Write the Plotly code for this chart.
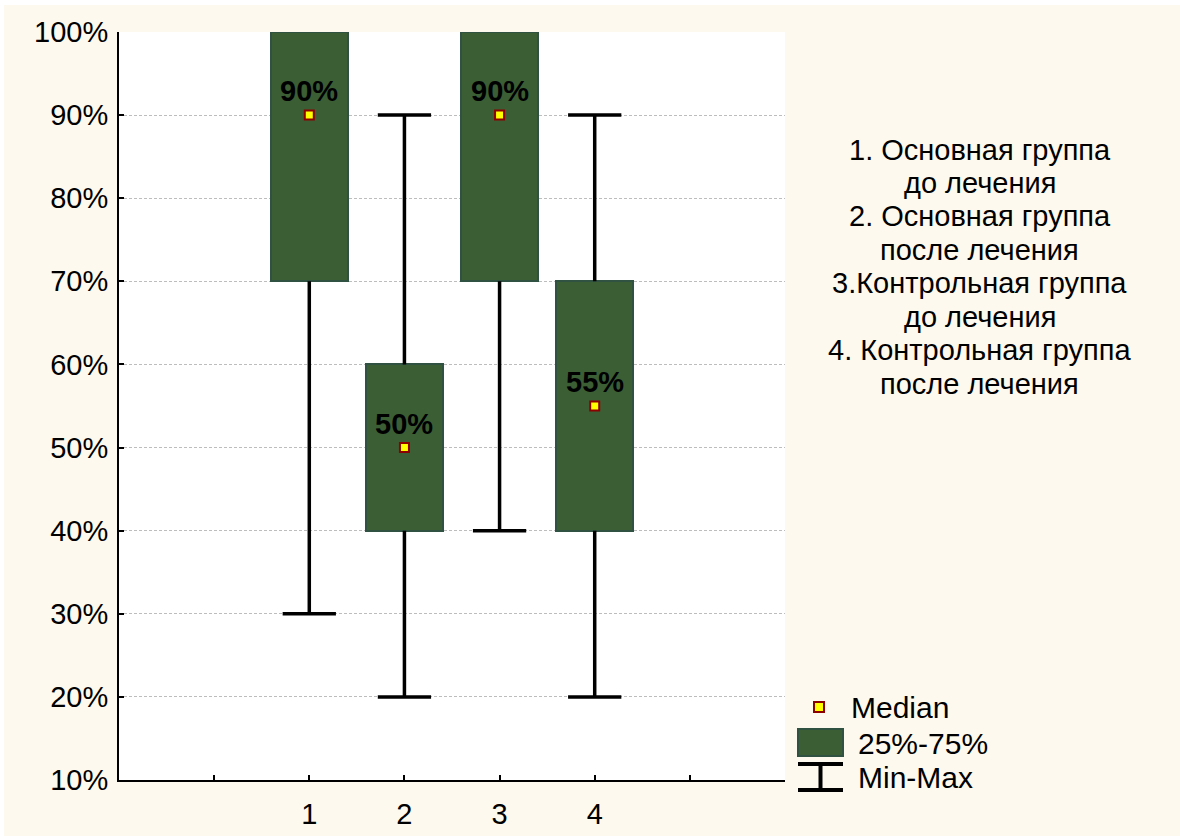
import plotly.graph_objects as go

# Summary statistics per group (percent)
groups = [1, 2, 3, 4]
mins = [30, 20, 40, 20]
q1 = [70, 40, 70, 40]
medians = [90, 50, 90, 55]
q3 = [100, 60, 100, 70]
maxs = [100, 90, 100, 90]

group_notes = [
    "1. Основная группа", "до лечения",
    "2. Основная группа", "после лечения",
    "3.Контрольная группа", "до лечения",
    "4. Контрольная группа", "после лечения",
]
legend_labels = ["Median", "25%-75%", "Min-Max"]

# Styling
FONT = "Arial, Liberation Sans, sans-serif"
CREAM = "#FEF9EE"
BOX_FILL = "#3B5E35"
BOX_EDGE = "#2F5242"
MED_FILL = "#FFFF00"
MED_EDGE = "#8B0000"
BOX_W = 0.81
CAP_HALF = 0.28

W, H = 1180, 836
L, R, T, B = 119, 785, 32, 780


def px(x):
    return (x - L) / (R - L)


def py(y):
    return (B - y) / (B - T)


fig = go.Figure()

# interquartile boxes
fig.add_trace(go.Bar(
    x=groups,
    y=[b - a for a, b in zip(q1, q3)],
    base=q1,
    width=BOX_W,
    marker=dict(color=BOX_FILL, line=dict(color=BOX_EDGE, width=2)),
    hoverinfo="skip",
    showlegend=False,
))

# min-max whiskers with caps
wx, wy = [], []
for g, lo, a, b, hi in zip(groups, mins, q1, q3, maxs):
    if a > lo:
        wx += [g, g, None, g - CAP_HALF, g + CAP_HALF, None]
        wy += [a, lo, None, lo, lo, None]
    if hi > b:
        wx += [g, g, None, g - CAP_HALF, g + CAP_HALF, None]
        wy += [b, hi, None, hi, hi, None]
fig.add_trace(go.Scatter(
    x=wx, y=wy, mode="lines",
    line=dict(color="black", width=3.5),
    hoverinfo="skip", showlegend=False,
))

# medians
fig.add_trace(go.Scatter(
    x=groups, y=medians, mode="markers",
    marker=dict(symbol="square", size=9, color=MED_FILL,
                line=dict(color=MED_EDGE, width=2)),
    hoverinfo="skip", showlegend=False,
))

annotations = []
for g, m in zip(groups, medians):
    annotations.append(dict(
        x=g, y=m, xref="x", yref="y", text=f"<b>{m}%</b>",
        showarrow=False, yanchor="bottom", yshift=6,
        font=dict(family=FONT, size=29, color="black"),
    ))

# group descriptions on the right
note_y = [150, 183, 216, 250, 283, 317, 350, 384]
for txt, yy in zip(group_notes, note_y):
    annotations.append(dict(
        x=px(980), y=py(yy), xref="paper", yref="paper", text=txt,
        showarrow=False, xanchor="center", yanchor="middle",
        font=dict(family=FONT, size=29, color="black"),
    ))

# hand-built legend
leg_pos = [(849, 707), (856, 743), (856, 777)]
for txt, (lx, ly) in zip(legend_labels, leg_pos):
    annotations.append(dict(
        x=px(lx), y=py(ly), xref="paper", yref="paper", text=txt,
        showarrow=False, xanchor="left", yanchor="middle",
        font=dict(family=FONT, size=30, color="black"),
    ))

shapes = [
    # thin white frame at the top and left of the page
    dict(type="rect", xref="paper", yref="paper", x0=px(0), x1=px(W),
         y0=py(5), y1=py(0), fillcolor="white", line=dict(width=0), layer="above"),
    dict(type="rect", xref="paper", yref="paper", x0=px(0), x1=px(4),
         y0=py(H), y1=py(0), fillcolor="white", line=dict(width=0), layer="above"),
    # legend: median marker
    dict(type="rect", xref="paper", yref="paper", x0=px(814), x1=px(824),
         y0=py(712), y1=py(702), fillcolor=MED_FILL,
         line=dict(color=MED_EDGE, width=2)),
    # legend: box
    dict(type="rect", xref="paper", yref="paper", x0=px(798), x1=px(843),
         y0=py(756), y1=py(729), fillcolor=BOX_FILL,
         line=dict(color=BOX_EDGE, width=2)),
    # legend: whisker glyph
    dict(type="line", xref="paper", yref="paper", x0=px(798), x1=px(843),
         y0=py(764), y1=py(764), line=dict(color="black", width=4)),
    dict(type="line", xref="paper", yref="paper", x0=px(798), x1=px(843),
         y0=py(790), y1=py(790), line=dict(color="black", width=4)),
    dict(type="line", xref="paper", yref="paper", x0=px(820.5), x1=px(820.5),
         y0=py(764), y1=py(790), line=dict(color="black", width=4)),
]

fig.update_layout(
    width=W, height=H,
    margin=dict(l=L, r=W - R, t=T, b=H - B, pad=0, autoexpand=False),
    paper_bgcolor=CREAM,
    plot_bgcolor="white",
    font=dict(family=FONT, color="black"),
    showlegend=False,
    bargap=0,
    annotations=annotations,
    shapes=shapes,
)

fig.update_xaxes(
    range=[-1, 6],
    tickvals=[0, 1, 2, 3, 4, 5],
    ticktext=["", "1", "2", "3", "4", ""],
    ticks="inside", ticklen=5, tickwidth=1.5, tickcolor="black",
    showline=True, linecolor="black", linewidth=2,
    showgrid=False, zeroline=False, automargin=False,
    tickfont=dict(family=FONT, size=29, color="black"),
    ticklabelstandoff=7,
)

fig.update_yaxes(
    range=[10, 100], tick0=10, dtick=10, ticksuffix="%",
    ticks="inside", ticklen=5, tickwidth=1.5, tickcolor="black",
    showline=True, linecolor="black", linewidth=2,
    showgrid=True, gridcolor="#BDBDBD", gridwidth=1, griddash="3px,2px",
    zeroline=False, automargin=False,
    tickfont=dict(family=FONT, size=29, color="black"),
    ticklabelstandoff=3,
)

fig.write_html("out.html")
